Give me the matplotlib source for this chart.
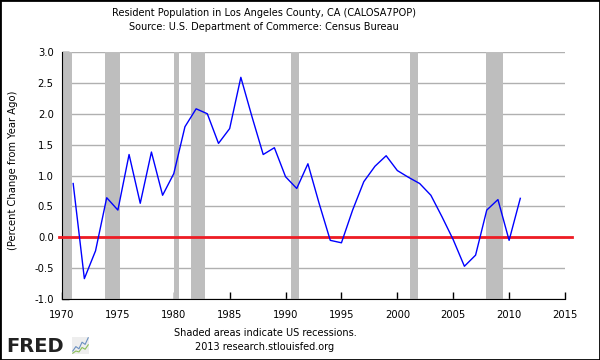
import matplotlib
matplotlib.use('Agg')
import matplotlib.pyplot as plt

# Datos: variacion porcentual anual de la poblacion (lectura aproximada)
anios = list(range(1971, 2012))
valores = [0.87, -0.67, -0.22, 0.64, 0.44, 1.34, 0.55, 1.38, 0.68, 1.03,
           1.79, 2.08, 2.00, 1.52, 1.76, 2.59, 1.95, 1.34, 1.45, 0.98,
           0.79, 1.19, 0.55, -0.05, -0.09, 0.44, 0.90, 1.15, 1.32, 1.08,
           0.97, 0.87, 0.68, 0.33, -0.04, -0.47, -0.29, 0.44, 0.61, -0.05,
           0.63]

# Recesiones en EE.UU. (inicio, fin)
recesiones = [(1969.92, 1970.88), (1973.83, 1975.17), (1980.0, 1980.5),
              (1981.5, 1982.83), (1990.5, 1991.17), (2001.17, 2001.83),
              (2007.92, 2009.42)]

x_ticks = list(range(1970, 2016, 5))
y_ticks = [-1.0, -0.5, 0.0, 0.5, 1.0, 1.5, 2.0, 2.5, 3.0]

titulo = "Resident Population in Los Angeles County, CA (CALOSA7POP)\nSource: U.S. Department of Commerce: Census Bureau"
pie = "Shaded areas indicate US recessions.\n2013 research.stlouisfed.org"

fig = plt.figure(figsize=(6, 3.6), dpi=100)
ax = fig.add_axes([62 / 600, 1 - 299 / 360, 503 / 600, 247 / 360])

for ini, fin in recesiones:
    ax.axvspan(ini, fin, color='#bebebe', lw=0, zorder=1)

ax.grid(True, axis='y', color='#b0b0b0', lw=1, zorder=0)
ax.set_axisbelow(True)

ax.axhline(0, xmin=-0.005, xmax=1.013, color='#ee1c24', lw=2, zorder=3, clip_on=False)
ax.plot(anios, valores, color='#0000ff', lw=1, zorder=4)

ax.set_xlim(1970, 2015)
ax.set_ylim(-1.0, 3.0)
ax.set_xticks(x_ticks)
ax.set_yticks(y_ticks)
ax.set_yticklabels([f"{v:.1f}" for v in y_ticks])
ax.tick_params(direction='in', length=5, width=1, labelsize=7.2, colors='black')
ax.tick_params(axis='x', pad=8)
ax.tick_params(axis='y', pad=6)
ax.spines['top'].set_visible(False)
ax.spines['right'].set_visible(False)
ax.set_ylabel("(Percent Change from Year Ago)", fontsize=7.2)
ax.yaxis.set_label_coords(-0.088, 0.52)

fig.text(264 / 600, 1 - 20 / 360, titulo, ha='center', va='center', fontsize=7, linespacing=1.5)
fig.text(265 / 600, 1 - 340 / 360, pie, ha='center', va='center', fontsize=7, linespacing=1.5)

# logo FRED
fig.text(6 / 600, 1 - 346 / 360, "FRED", ha='left', va='center', fontsize=14,
         fontweight='bold', color='#222222', family='DejaVu Sans')
icono = fig.add_axes([72 / 600, 1 - 354 / 360, 17 / 600, 17 / 360])
icono.set_facecolor('#eeeeee')
icono.plot([0, 1, 2, 3, 4, 5], [1, 2, 1.5, 3, 2.5, 4], color='#6a8fc0', lw=0.8)
icono.plot([0, 1, 2, 3, 4, 5], [0.5, 1, 0.8, 1.8, 1.4, 2.4], color='#8abf5a', lw=0.8)
icono.set_xticks([])
icono.set_yticks([])
for s in icono.spines.values():
    s.set_visible(False)

# borde de la figura
fig.patches.append(plt.Rectangle((0, 0), 1, 1, transform=fig.transFigure,
                                 fill=False, edgecolor='black', lw=2))

fig.savefig('out.png', dpi=100)
